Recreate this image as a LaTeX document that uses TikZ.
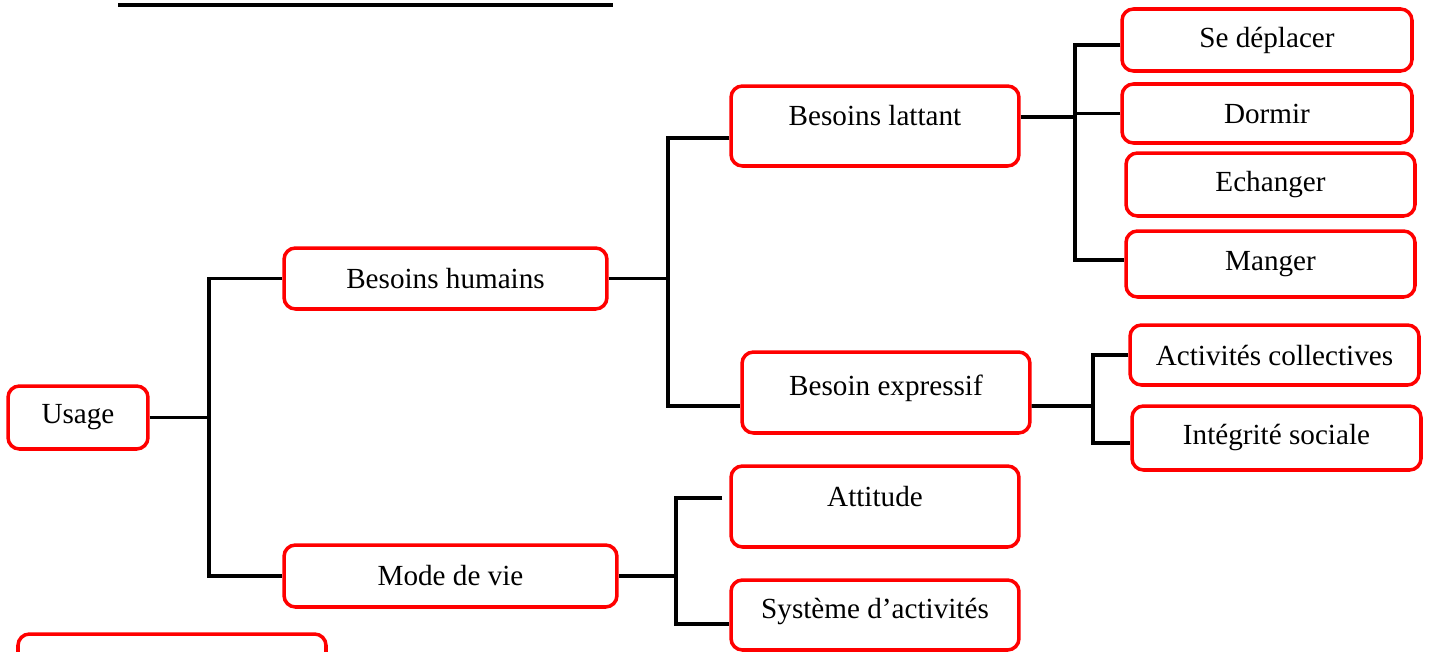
\documentclass[tikz,border=0pt]{standalone}
\usepackage{fontspec}
\setmainfont{Liberation Serif}
\usetikzlibrary{calc}

\begin{document}
\begin{tikzpicture}[
    x=0.02cm, y=-0.02cm,
    every node/.style={font=\fontsize{16.6}{20}\selectfont},
    box/.style={draw=red, line width=2pt, rounded corners=6.5pt, inner sep=0pt},
    raised/.style={text height=12pt, text depth=#1},
    link/.style={draw=black, line width=2pt},
]
% page frame, the picture is cut at its edges
\useasboundingbox (0,0) rectangle (1429,652);
\clip (0,0) rectangle (1429,652);
% underline of the cut title
\draw[line width=2.1pt] (118,5) -- (613,5);
% left column
\node[box, minimum width=2.8cm, minimum height=1.26cm] (usage) at (78,417.5) {Usage};
\node[box, minimum width=6.46cm, minimum height=1.22cm] (bh) at (445.5,278.5) {Besoins humains};
\node[box, minimum width=6.66cm, minimum height=1.24cm] (mv) at (450.5,576) {Mode de vie};
% middle column
\node[box, raised=12.5pt, minimum width=5.76cm, minimum height=1.6cm] (bl) at (875,126) {Besoins lattant};
\node[box, raised=9.1pt, minimum width=5.76cm, minimum height=1.62cm] (be) at (886,392.5) {Besoin expressif};
\node[box, raised=12.5pt, minimum width=5.76cm, minimum height=1.62cm] (att) at (875,506.5) {Attitude};
\node[box, raised=8.1pt, minimum width=5.76cm, minimum height=1.4cm] (sys) at (875,615) {Système d’activités};
% right column
\node[box, minimum width=5.8cm, minimum height=1.24cm] (sd) at (1267,40) {Se déplacer};
\node[box, minimum width=5.8cm, minimum height=1.18cm] (dor) at (1267,113.5) {Dormir};
\node[box, minimum width=5.78cm, minimum height=1.26cm] (ech) at (1270.5,184.5) {Echanger};
\node[box, minimum width=5.78cm, minimum height=1.32cm] (man) at (1270.5,264) {Manger};
\node[box, minimum width=5.78cm, minimum height=1.2cm] (ac) at (1274.5,355) {Activités collectives};
\node[box, minimum width=5.78cm, minimum height=1.28cm] (is) at (1276.5,438) {Intégrité sociale};
% box cut by the bottom edge
\draw[box] (18,700) rectangle (326,634);
% usage tree
\coordinate (j1) at (209,420);
\draw[link] (usage.east) -- (usage.east -| j1);
\draw[link] (bh.west) -| (j1) |- (mv.west);
% besoins humains
\coordinate (j2) at (668,279);
\draw[link] (bh.east) -- (bh.east -| j2);
\draw[link] ($(bl.west)+(0,12)$) -| (j2) |- ($(be.west)+(0,13.5)$);
% besoins lattant
\coordinate (j3) at (1075,117);
\draw[link] ($(bl.east)+(0,-9)$) -- (j3);
\draw[link] ($(sd.west)+(0,5)$) -| (j3) |- ($(man.west)+(0,-4)$);
\draw[link] (dor.west) -- (dor.west -| j3);
\draw[link] ($(ech.west)+(0,9.5)$) -- ($(ech.west)+(0,9.5)$ -| j3);
% besoin expressif
\coordinate (j4) at (1093,406);
\draw[link] ($(be.east)+(0,13.5)$) -- (j4);
\draw[link] (ac.west) -| (j4) |- ($(is.west)+(0,5)$);
% mode de vie
\coordinate (j5) at (676,573);
\draw[link] (mv.east) -- (mv.east -| j5);
\draw[link] ($(att.west)+(-7,-8.5)$) -| (j5) |- ($(sys.west)+(0,9)$);
\end{tikzpicture}
\end{document}
